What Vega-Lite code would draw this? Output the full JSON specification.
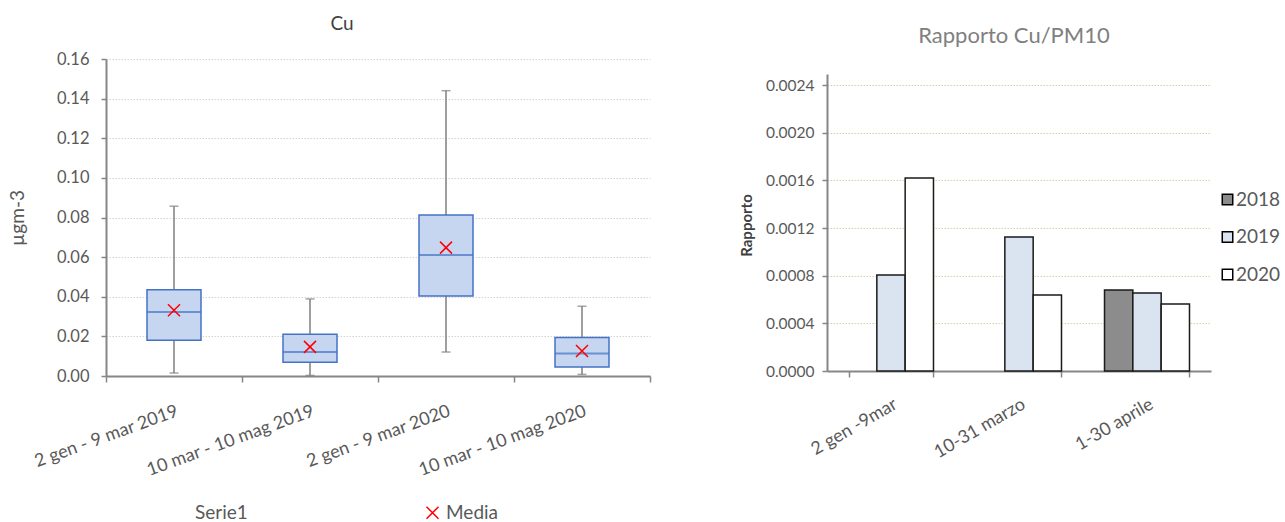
{
  "$schema": "https://vega.github.io/schema/vega-lite/v6.json",
  "background": "white",
  "padding": {"left": 8, "top": 15, "right": 0, "bottom": 0},
  "spacing": 88,
  "config": {"view": {"stroke": null}, "font": "Lato"},
  "datasets": {
    "box": [
      {"periodo": "2 gen - 9 mar 2019", "min": 0.0015, "q1": 0.018, "median": 0.0323, "q3": 0.0435, "max": 0.0857, "mean": 0.0332, "serie": "Media"},
      {"periodo": "10 mar - 10 mag 2019", "min": 0.0003, "q1": 0.0069, "median": 0.0121, "q3": 0.0211, "max": 0.0389, "mean": 0.0147, "serie": "Media"},
      {"periodo": "2 gen - 9 mar 2020", "min": 0.0121, "q1": 0.0404, "median": 0.0611, "q3": 0.0812, "max": 0.144, "mean": 0.0648, "serie": "Media"},
      {"periodo": "10 mar - 10 mag 2020", "min": 0.0008, "q1": 0.0045, "median": 0.0113, "q3": 0.0194, "max": 0.0352, "mean": 0.0126, "serie": "Media"}
    ],
    "bars": [
      {"periodo": "2 gen -9mar", "anno": "2019", "rapporto": 0.000806},
      {"periodo": "2 gen -9mar", "anno": "2020", "rapporto": 0.00162},
      {"periodo": "10-31 marzo", "anno": "2019", "rapporto": 0.001124},
      {"periodo": "10-31 marzo", "anno": "2020", "rapporto": 0.000638},
      {"periodo": "1-30 aprile", "anno": "2018", "rapporto": 0.00068},
      {"periodo": "1-30 aprile", "anno": "2019", "rapporto": 0.000655},
      {"periodo": "1-30 aprile", "anno": "2020", "rapporto": 0.000562}
    ]
  },
  "resolve": {"scale": {"stroke": "independent", "fill": "independent"}, "legend": {"stroke": "independent", "fill": "independent"}},
  "hconcat": [
    {
      "width": 544,
      "height": 317,
      "title": {"text": "Cu", "fontSize": 19, "fontWeight": "normal", "color": "#404040", "offset": 17, "dx": -36, "font": "Lato"},
      "data": {"name": "box"},
      "encoding": {
        "x": {
          "field": "periodo", "type": "nominal", "sort": null,
          "scale": {"paddingInner": 0, "paddingOuter": 0},
          "axis": {
            "title": null, "labelAngle": -20, "labelFontSize": 18, "labelColor": "#595959", "labelPadding": 20,
            "tickBand": "extent", "tickSize": 6, "tickColor": "#868686", "tickWidth": 1.5,
            "domainColor": "#868686", "domainWidth": 2, "labelFont": "Lato"
          }
        }
      },
      "layer": [
        {
          "mark": {"type": "rule", "color": "#7f7f7f", "strokeWidth": 1.5},
          "encoding": {
            "y": {
              "field": "min", "type": "quantitative", "title": "µgm-3",
              "scale": {"domain": [0, 0.16], "nice": false},
              "axis": {
                "values": [0, 0.02, 0.04, 0.06, 0.08, 0.1, 0.12, 0.14, 0.16], "format": ".2f", "labelOverlap": false,
                "labelFontSize": 16.5, "labelColor": "#595959", "labelPadding": 12, "labelFont": "Lato",
                "titleFontSize": 19, "titleFontWeight": "normal", "titleColor": "#595959", "titlePadding": 29, "titleFont": "Lato",
                "tickSize": 5, "tickColor": "#868686", "tickWidth": 1.5, "domainColor": "#868686", "domainWidth": 2,
                "grid": true, "gridColor": "#d4d4d4", "gridDash": [1.5, 1.5], "gridWidth": 1
              }
            },
            "y2": {"field": "q1"}
          }
        },
        {
          "mark": {"type": "rule", "color": "#7f7f7f", "strokeWidth": 1.5},
          "encoding": {
            "y": {
              "field": "q3", "type": "quantitative", "title": "µgm-3",
              "axis": {
                "values": [0, 0.02, 0.04, 0.06, 0.08, 0.1, 0.12, 0.14, 0.16], "format": ".2f", "labelOverlap": false,
                "labelFontSize": 16.5, "labelColor": "#595959", "labelPadding": 12, "labelFont": "Lato",
                "titleFontSize": 19, "titleFontWeight": "normal", "titleColor": "#595959", "titlePadding": 29, "titleFont": "Lato",
                "tickSize": 5, "tickColor": "#868686", "tickWidth": 1.5, "domainColor": "#868686", "domainWidth": 2,
                "grid": true, "gridColor": "#d4d4d4", "gridDash": [1.5, 1.5], "gridWidth": 1
              }
            },
            "y2": {"field": "max"}
          }
        },
        {
          "mark": {"type": "tick", "color": "#7f7f7f", "size": 9, "thickness": 1.5},
          "encoding": {
            "y": {
              "field": "max", "type": "quantitative", "title": "µgm-3",
              "axis": {
                "values": [0, 0.02, 0.04, 0.06, 0.08, 0.1, 0.12, 0.14, 0.16], "format": ".2f", "labelOverlap": false,
                "labelFontSize": 16.5, "labelColor": "#595959", "labelPadding": 12, "labelFont": "Lato",
                "titleFontSize": 19, "titleFontWeight": "normal", "titleColor": "#595959", "titlePadding": 29, "titleFont": "Lato",
                "tickSize": 5, "tickColor": "#868686", "tickWidth": 1.5, "domainColor": "#868686", "domainWidth": 2,
                "grid": true, "gridColor": "#d4d4d4", "gridDash": [1.5, 1.5], "gridWidth": 1
              }
            }
          }
        },
        {
          "mark": {"type": "tick", "color": "#7f7f7f", "size": 9, "thickness": 1.5},
          "encoding": {
            "y": {
              "field": "min", "type": "quantitative", "title": "µgm-3",
              "axis": {
                "values": [0, 0.02, 0.04, 0.06, 0.08, 0.1, 0.12, 0.14, 0.16], "format": ".2f", "labelOverlap": false,
                "labelFontSize": 16.5, "labelColor": "#595959", "labelPadding": 12, "labelFont": "Lato",
                "titleFontSize": 19, "titleFontWeight": "normal", "titleColor": "#595959", "titlePadding": 29, "titleFont": "Lato",
                "tickSize": 5, "tickColor": "#868686", "tickWidth": 1.5, "domainColor": "#868686", "domainWidth": 2,
                "grid": true, "gridColor": "#d4d4d4", "gridDash": [1.5, 1.5], "gridWidth": 1
              }
            }
          }
        },
        {
          "mark": {"type": "bar", "size": 54, "fill": "#c6d6f0", "stroke": "#4472c4", "strokeWidth": 1.5},
          "encoding": {
            "y": {
              "field": "q1", "type": "quantitative", "title": "µgm-3",
              "axis": {
                "values": [0, 0.02, 0.04, 0.06, 0.08, 0.1, 0.12, 0.14, 0.16], "format": ".2f", "labelOverlap": false,
                "labelFontSize": 16.5, "labelColor": "#595959", "labelPadding": 12, "labelFont": "Lato",
                "titleFontSize": 19, "titleFontWeight": "normal", "titleColor": "#595959", "titlePadding": 29, "titleFont": "Lato",
                "tickSize": 5, "tickColor": "#868686", "tickWidth": 1.5, "domainColor": "#868686", "domainWidth": 2,
                "grid": true, "gridColor": "#d4d4d4", "gridDash": [1.5, 1.5], "gridWidth": 1
              }
            },
            "y2": {"field": "q3"}
          }
        },
        {
          "mark": {"type": "tick", "color": "#4472c4", "size": 54, "thickness": 2},
          "encoding": {
            "y": {
              "field": "median", "type": "quantitative", "title": "µgm-3",
              "axis": {
                "values": [0, 0.02, 0.04, 0.06, 0.08, 0.1, 0.12, 0.14, 0.16], "format": ".2f", "labelOverlap": false,
                "labelFontSize": 16.5, "labelColor": "#595959", "labelPadding": 12, "labelFont": "Lato",
                "titleFontSize": 19, "titleFontWeight": "normal", "titleColor": "#595959", "titlePadding": 29, "titleFont": "Lato",
                "tickSize": 5, "tickColor": "#868686", "tickWidth": 1.5, "domainColor": "#868686", "domainWidth": 2,
                "grid": true, "gridColor": "#d4d4d4", "gridDash": [1.5, 1.5], "gridWidth": 1
              }
            }
          }
        },
        {
          "mark": {"type": "point", "shape": "M-1,-1L1,1M-1,1L1,-1", "size": 144, "filled": false, "strokeWidth": 1.5, "opacity": 1},
          "encoding": {
            "y": {
              "field": "mean", "type": "quantitative", "title": "µgm-3",
              "axis": {
                "values": [0, 0.02, 0.04, 0.06, 0.08, 0.1, 0.12, 0.14, 0.16], "format": ".2f", "labelOverlap": false,
                "labelFontSize": 16.5, "labelColor": "#595959", "labelPadding": 12, "labelFont": "Lato",
                "titleFontSize": 19, "titleFontWeight": "normal", "titleColor": "#595959", "titlePadding": 29, "titleFont": "Lato",
                "tickSize": 5, "tickColor": "#868686", "tickWidth": 1.5, "domainColor": "#868686", "domainWidth": 2,
                "grid": true, "gridColor": "#d4d4d4", "gridDash": [1.5, 1.5], "gridWidth": 1
              }
            },
            "stroke": {
              "field": "serie", "type": "nominal",
              "scale": {"domain": ["Serie1", "Media"], "range": ["transparent", "#ff0000"]},
              "legend": {
                "title": null, "orient": "none", "legendX": 66, "legendY": 444, "direction": "horizontal",
                "symbolType": "M-1,-1L1,1M-1,1L1,-1", "symbolSize": 144, "symbolStrokeWidth": 1.5,
                "labelFont": "Lato", "labelFontSize": 19, "labelColor": "#595959", "columnPadding": 175, "labelOffset": 4
              }
            }
          }
        }
      ]
    },
    {
      "width": 384,
      "height": 312,
      "title": {"text": "Rapporto Cu/PM10", "fontSize": 22, "fontWeight": "normal", "color": "#808080", "offset": 11, "dx": -5, "font": "Lato"},
      "data": {"name": "bars"},
      "mark": {"type": "bar", "stroke": "#1a1a1a", "strokeWidth": 1.5},
      "encoding": {
        "x": {
          "field": "periodo", "type": "nominal", "sort": null,
          "scale": {"paddingInner": 0.336, "paddingOuter": 0.168},
          "axis": {
            "title": null, "labelAngle": -30, "labelFontSize": 18, "labelColor": "#595959", "labelPadding": 18, "labelFont": "Lato",
            "tickBand": "extent", "tickSize": 6, "tickColor": "#868686", "tickWidth": 1.5,
            "domainColor": "#868686", "domainWidth": 2
          }
        },
        "xOffset": {"field": "anno", "type": "nominal", "scale": {"domain": ["2018", "2019", "2020"], "paddingInner": 0, "paddingOuter": 0}},
        "y": {
          "field": "rapporto", "type": "quantitative", "title": "Rapporto",
          "scale": {"domain": [0, 0.0026182], "nice": false},
          "axis": {
            "values": [0, 0.0004, 0.0008, 0.0012, 0.0016, 0.002, 0.0024], "format": ".4f", "labelOverlap": false,
            "labelFontSize": 15.5, "labelColor": "#595959", "labelPadding": 8, "labelFont": "Lato",
            "titleFontSize": 15, "titleFontWeight": "bold", "titleColor": "#404040", "titlePadding": 11, "titleFont": "Lato", "titleY": 166,
            "tickSize": 5, "tickColor": "#868686", "tickWidth": 1.5, "domainColor": "#868686", "domainWidth": 2, "domainDash": [297, 100],
            "grid": true, "gridColor": "#d9d0a8", "gridDash": [1.5, 1.5], "gridWidth": 1
          }
        },
        "fill": {
          "field": "anno", "type": "nominal",
          "scale": {"domain": ["2018", "2019", "2020"], "range": ["#8c8c8c", "#dae3f0", "#ffffff"]},
          "legend": {
            "title": null, "orient": "none", "legendX": 391, "legendY": 131, "direction": "vertical",
            "symbolType": "square", "symbolSize": 110, "symbolStrokeColor": "#000000", "symbolStrokeWidth": 1.5,
            "labelFont": "Lato", "labelFontSize": 19, "labelColor": "#595959", "rowPadding": 17.5, "labelOffset": -1
          }
        }
      }
    }
  ]
}
